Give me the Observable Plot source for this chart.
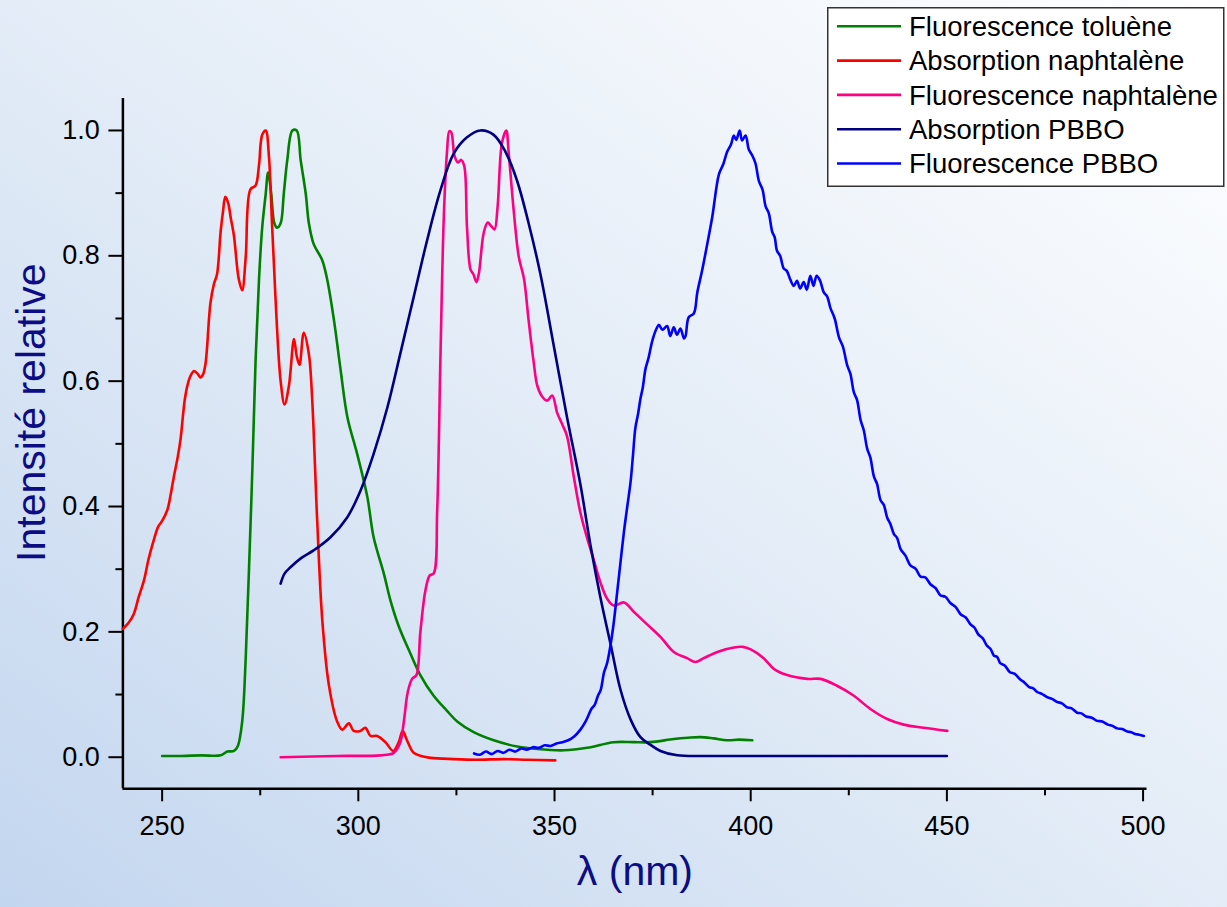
<!DOCTYPE html>
<html>
<head>
<meta charset="utf-8">
<script src="https://cdn.jsdelivr.net/npm/d3@7"></script>
<script src="https://cdn.jsdelivr.net/npm/@observablehq/plot@0.6"></script>
<style>
  html, body { margin: 0; padding: 0; }
  body {
    width: 1227px; height: 907px; overflow: hidden; position: relative;
    background: linear-gradient(to top right, #c3d6ef 0%, #e3ecf7 50%, #ffffff 100%);
    font-family: "Liberation Sans", Arial, sans-serif;
  }
  #chart { position: absolute; left: 0; top: 0; }
  #legend { position: absolute; left: 827px; top: 7px; }
</style>
</head>
<body>
<div id="chart"></div>
<div id="legend"></div>
<script>
// ---------------- data ----------------
const seriesNames = ["Fluorescence toluène", "Absorption naphtalène", "Fluorescence naphtalène", "Absorption PBBO", "Fluorescence PBBO"];

const toluFluoX = [250, 255, 260, 264.9, 266.6, 268.3, 269.3, 270.4, 271.3, 272.1, 273.0, 273.8, 274.7, 275.5, 276.4, 277.0, 277.8, 278.6, 279.3, 280.2, 281.0, 281.9, 283.2, 284.3, 285.3, 286.6, 287.4, 288.6, 290.8, 292.1, 293.8, 295.5, 297.2, 299.7, 302.3, 303.9, 306.5, 308.2, 310.3, 313.3, 315.8, 319.2, 322.6, 325.2, 329.4, 334.5, 340.5, 345.6, 352.4, 358.3, 365.1, 370.2, 374.4, 380.4, 384, 387.2, 390.5, 394.0, 397, 400.4];
const toluFluoY = [0.002, 0.002, 0.003, 0.003, 0.009, 0.010, 0.018, 0.057, 0.158, 0.293, 0.461, 0.630, 0.764, 0.845, 0.899, 0.933, 0.899, 0.852, 0.845, 0.852, 0.899, 0.953, 1.0, 1.0, 0.953, 0.899, 0.852, 0.819, 0.793, 0.761, 0.697, 0.617, 0.543, 0.484, 0.415, 0.351, 0.293, 0.250, 0.209, 0.165, 0.131, 0.098, 0.074, 0.057, 0.040, 0.027, 0.017, 0.013, 0.011, 0.015, 0.024, 0.024, 0.024, 0.029, 0.031, 0.032, 0.030, 0.027, 0.028, 0.027];

const naphAbsX = [240, 241.5, 242.8, 244, 245.4, 246.5, 247.9, 249, 250, 251.3, 252.2, 253, 254, 254.7, 255.9, 257, 258.1, 259, 259.8, 260.5, 261.1, 262.3, 263.2, 264, 264.9, 265.5, 266.1, 266.8, 267.5, 268.3, 269.5, 270.4, 271.3, 272.5, 273.8, 274.7, 275.5, 276.4, 277.2, 278, 278.9, 280.2, 281.2, 282.3, 283.6, 284.3, 285.0, 286.1, 287.4, 288.2, 289.5, 290.8, 292.5, 294.6, 295.9, 297.6, 298.8, 300.5, 301.8, 303.1, 304.8, 306.9, 308.9, 310.3, 311.3, 312.4, 314.1, 316, 318.4, 324.3, 330, 337.1, 343, 350.2];
const naphAbsY = [0.205, 0.215, 0.229, 0.255, 0.283, 0.315, 0.347, 0.368, 0.377, 0.394, 0.42, 0.448, 0.48, 0.508, 0.576, 0.605, 0.616, 0.612, 0.606, 0.612, 0.630, 0.724, 0.755, 0.771, 0.838, 0.870, 0.894, 0.885, 0.86, 0.832, 0.764, 0.745, 0.798, 0.906, 0.912, 0.946, 0.993, 1.0, 0.96, 0.852, 0.731, 0.600, 0.563, 0.592, 0.667, 0.640, 0.626, 0.677, 0.643, 0.576, 0.380, 0.220, 0.115, 0.057, 0.044, 0.054, 0.042, 0.042, 0.047, 0.034, 0.034, 0.024, 0.010, 0.024, 0.042, 0.027, 0.007, 0.002, -0.001, -0.003, -0.004, -0.003, -0.004, -0.005];

const naphFluoX = [280.2, 294.6, 305.6, 309, 310.7, 311.6, 312.6, 313.7, 314.8, 315.8, 317.1, 318.2, 319.2, 320.1, 320.9, 321.8, 322.6, 323.2, 323.7, 324.5, 325.4, 326.2, 327, 327.7, 328.6, 329.3, 330.1, 330.7, 332, 333, 333.8, 334.7, 335.5, 336.6, 337.7, 338.3, 339.6, 340.9, 342.2, 343.4, 344.7, 345.6, 346.8, 348.1, 349.4, 350.7, 351.9, 353.2, 354.9, 356.6, 358.3, 360, 361.7, 363.4, 365.1, 367.7, 370.2, 373.6, 377, 380.4, 383.8, 385.9, 388, 391.5, 395.7, 398, 400, 403.3, 405.9, 409.3, 414.4, 417.8, 422, 426.3, 430.5, 434.8, 439, 444.1, 450.1];
const naphFluoY = [0.0, 0.002, 0.003, 0.007, 0.024, 0.057, 0.104, 0.125, 0.131, 0.199, 0.266, 0.290, 0.293, 0.394, 0.630, 0.865, 0.966, 0.999, 0.997, 0.960, 0.949, 0.953, 0.943, 0.845, 0.778, 0.771, 0.758, 0.771, 0.838, 0.853, 0.848, 0.842, 0.879, 0.980, 1.0, 0.966, 0.872, 0.798, 0.764, 0.697, 0.630, 0.593, 0.576, 0.569, 0.577, 0.549, 0.532, 0.512, 0.448, 0.390, 0.350, 0.315, 0.279, 0.253, 0.242, 0.247, 0.232, 0.212, 0.192, 0.168, 0.158, 0.152, 0.158, 0.168, 0.175, 0.176, 0.172, 0.158, 0.141, 0.131, 0.125, 0.125, 0.114, 0.098, 0.077, 0.061, 0.052, 0.047, 0.042];

const pbboAbsX = [280.2, 281.2, 282.7, 285.5, 288.6, 292.9, 297.2, 300.6, 303.9, 307.4, 310.7, 314.1, 317.5, 320.9, 324.3, 327.7, 331.1, 334.5, 337.5, 340.5, 343.4, 346.4, 349.8, 353.2, 356.6, 359.2, 361.7, 364.3, 366.8, 369.4, 371.9, 374.4, 377, 381.3, 390, 400, 420, 450];
const pbboAbsY = [0.277, 0.293, 0.303, 0.318, 0.330, 0.351, 0.383, 0.426, 0.484, 0.558, 0.644, 0.734, 0.824, 0.904, 0.963, 0.989, 1.0, 0.993, 0.966, 0.919, 0.852, 0.771, 0.657, 0.542, 0.435, 0.337, 0.255, 0.180, 0.108, 0.060, 0.032, 0.020, 0.010, 0.003, 0.002, 0.002, 0.002, 0.002];

const pbboFluoX = [329.5, 331, 332.5, 334, 335.5, 337, 338.5, 340, 341.5, 343, 344.5, 346, 347.5, 349, 350.5, 352, 353.5, 355, 356.6, 358, 359.5, 360.2, 361, 361.8, 362.6, 363.4, 364.3, 365.1, 366, 366.8, 367.7, 368.5, 369.4, 370, 370.6, 371.3, 371.9, 372.5, 373.2, 374, 374.9, 376, 376.6, 377.5, 378.7, 379.5, 380.4, 381.2, 382.1, 383, 383.4, 384.2, 385.5, 386.4, 387.6, 388.9, 390.2, 391.9, 393, 394, 395, 395.7, 396.3, 397.2, 397.8, 398.7, 399.5, 400.4, 401.2, 402.1, 403, 403.8, 404.6, 405.5, 406.1, 406.7, 407.5, 408.4, 409.2, 410.1, 411, 411.8, 412.6, 413.5, 414.3, 415.2, 416, 416.8, 417.7, 418.6, 419.5, 420.3, 421.4, 422.5, 423.5, 424.6, 425.4, 426.3, 427.1, 428, 428.8, 429.7, 430.5, 431.4, 432.2, 433.1, 433.9, 434.8, 435.6, 436.5, 437.3, 438.2, 439.4, 440.7, 442, 443.3, 444.5, 445.8, 447.1, 448.4, 449.6, 450.9, 452.2, 453.5, 454.8, 456, 457, 458, 459.1, 460.2, 461.1, 462, 462.8, 463.6, 464.8, 466, 467.3, 468.7, 469.8, 471, 472, 473, 474.2, 475.5, 476.8, 478.1, 479.3, 480.5, 481.8, 483.2, 484.3, 485.5, 486.9, 488.3, 489.6, 491, 492.2, 493.4, 494.7, 496, 497, 498, 499, 500.2];
const pbboFluoY = [0.006, 0.004, 0.009, 0.005, 0.010, 0.007, 0.012, 0.009, 0.014, 0.012, 0.016, 0.015, 0.019, 0.018, 0.022, 0.024, 0.027, 0.033, 0.044, 0.058, 0.078, 0.083, 0.097, 0.108, 0.135, 0.150, 0.180, 0.215, 0.265, 0.310, 0.360, 0.398, 0.440, 0.482, 0.525, 0.548, 0.572, 0.590, 0.620, 0.638, 0.664, 0.684, 0.690, 0.682, 0.688, 0.672, 0.686, 0.674, 0.684, 0.668, 0.672, 0.702, 0.708, 0.742, 0.776, 0.818, 0.862, 0.930, 0.946, 0.966, 0.978, 0.992, 0.985, 1.0, 0.984, 0.992, 0.970, 0.960, 0.948, 0.919, 0.906, 0.879, 0.868, 0.838, 0.830, 0.808, 0.800, 0.780, 0.776, 0.762, 0.752, 0.760, 0.748, 0.758, 0.746, 0.768, 0.752, 0.768, 0.760, 0.742, 0.735, 0.717, 0.700, 0.670, 0.655, 0.625, 0.612, 0.582, 0.570, 0.538, 0.522, 0.492, 0.478, 0.448, 0.436, 0.410, 0.403, 0.382, 0.372, 0.356, 0.350, 0.332, 0.322, 0.306, 0.301, 0.288, 0.287, 0.276, 0.270, 0.258, 0.256, 0.246, 0.240, 0.228, 0.223, 0.212, 0.207, 0.196, 0.190, 0.178, 0.173, 0.162, 0.160, 0.150, 0.146, 0.136, 0.133, 0.124, 0.119, 0.112, 0.110, 0.104, 0.101, 0.096, 0.093, 0.088, 0.086, 0.080, 0.078, 0.071, 0.070, 0.065, 0.063, 0.058, 0.057, 0.052, 0.050, 0.046, 0.045, 0.041, 0.040, 0.037, 0.036, 0.034];

const xDomain = [240, 501];
const yDomain = [-0.0504, 1.051];
const xMajorTicks = [250, 300, 350, 400, 450, 500];
const xMinorTicks = [275, 325, 375, 425, 475];
const yMajorTicks = [0.0, 0.2, 0.4, 0.6, 0.8, 1.0];
const yMinorTicks = [0.1, 0.3, 0.5, 0.7, 0.9];
const xLabel = "λ (nm)";
const yLabel = "Intensité relative";

// ---------------- build table ----------------
const seriesX = [toluFluoX, naphAbsX, naphFluoX, pbboAbsX, pbboFluoX];
const seriesY = [toluFluoY, naphAbsY, naphFluoY, pbboAbsY, pbboFluoY];
const rows = [];
seriesNames.forEach((name, k) => {
  seriesX[k].forEach((x, i) => rows.push({series: name, x, y: seriesY[k][i]}));
});

const colors = ["#008000", "#ff0000", "#ff0080", "#000080", "#0000ff"];
const font = "'Liberation Sans', Arial, sans-serif";
const labelColor = "#0c0c84";

const plot = Plot.plot({
  width: 1227,
  height: 907,
  marginLeft: 122.4,
  marginRight: 80.5,
  marginTop: 98,
  marginBottom: 118.7,
  style: {background: "transparent", fontFamily: font, color: "black", overflow: "visible"},
  x: {domain: xDomain},
  y: {domain: yDomain},
  color: {domain: seriesNames, range: colors},
  marks: [
    Plot.axisX({ticks: xMajorTicks, tickSize: 13, tickPadding: 14, strokeWidth: 2, fontSize: 27, fill: "black", label: null, tickFormat: d => String(d)}),
    Plot.axisX({ticks: xMinorTicks, tickSize: 7, strokeWidth: 2, label: null, tickFormat: () => ""}),
    Plot.axisY({ticks: yMajorTicks, tickSize: 14, tickPadding: 9, strokeWidth: 2, fontSize: 27, fill: "black", label: null, tickFormat: d3.format(".1f")}),
    Plot.axisY({ticks: yMinorTicks, tickSize: 7, strokeWidth: 2, label: null, tickFormat: () => ""}),
    Plot.ruleY([yDomain[0]], {stroke: "black", strokeWidth: 2.5}),
    Plot.ruleX([xDomain[0]], {stroke: "black", strokeWidth: 2.5}),
    Plot.line(rows, {x: "x", y: "y", z: "series", stroke: "series", strokeWidth: 2.6, curve: "catmull-rom"}),
    Plot.text([yLabel], {frameAnchor: "left", textAnchor: "middle", rotate: -90, dx: -91, dy: -31, fontSize: 41, fill: labelColor, text: d => d}),
    Plot.text([xLabel], {frameAnchor: "bottom", textAnchor: "middle", dy: 96, fontSize: 41, fill: labelColor, text: d => d})
  ]
});
document.getElementById("chart").appendChild(plot);

// ---------------- legend ----------------
const lg = d3.select("#legend").append("svg")
  .attr("width", 398).attr("height", 181)
  .style("display", "block");
lg.append("rect").attr("x", 0.75).attr("y", 0.75).attr("width", 396).attr("height", 178.5)
  .attr("fill", "white").attr("stroke", "#333").attr("stroke-width", 1.5);
seriesNames.forEach((name, i) => {
  const base = 29 + i * 34.3;
  lg.append("line").attr("x1", 10).attr("x2", 74).attr("y1", base - 9.7).attr("y2", base - 9.7)
    .attr("stroke", colors[i]).attr("stroke-width", 2.6);
  lg.append("text").attr("x", 82).attr("y", base)
    .attr("font-family", font).attr("font-size", 27.5).attr("fill", "black").text(name);
});
</script>
</body>
</html>
